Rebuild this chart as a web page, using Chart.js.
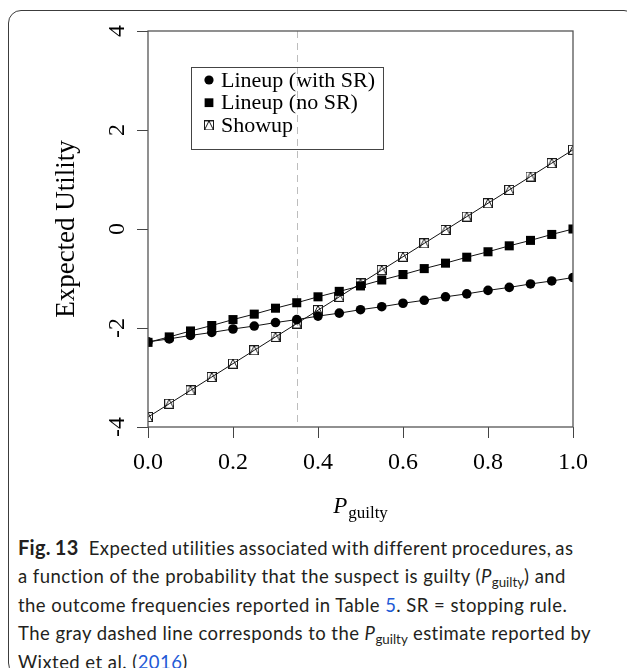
<!DOCTYPE html>
<html>
<head>
<meta charset="utf-8">
<script src="https://cdn.jsdelivr.net/npm/chart.js@4/dist/chart.umd.min.js"></script>
<style>
  html, body { margin: 0; padding: 0; background: #fff; width: 627px; height: 668px; overflow: hidden; }
  #frame { position: absolute; left: 8px; top: 10px; width: 629px; height: 666px; border: 1.5px solid #3c3c3c; border-radius: 13px; box-sizing: border-box; }
  #plot { position: absolute; left: 0; top: 0; }
  #caption { position: absolute; left: 18px; top: 533px; font-family: Lato, "Noto Sans", sans-serif; font-size: 18.5px; letter-spacing: 0.45px; line-height: 28.4px; color: #231f20; white-space: nowrap; }
  #caption .b { font-weight: bold; font-size: 20px; letter-spacing: 0.3px; margin-right: 6px; }
  #caption .first { word-spacing: -1.2px; }
  #caption .ref { color: #2159d6; }
  #caption sub { font-size: 72%; vertical-align: -0.32em; line-height: 0; letter-spacing: 0; }
</style>
</head>
<body>
<div id="frame"></div>
<canvas id="plot" width="627" height="530"></canvas>
<div id="caption">
  <div class="first"><span class="b">Fig. 13</span> Expected utilities associated with different procedures, as</div>
  <div>a function of the probability that the suspect is guilty (<i>P</i><sub>guilty</sub>) and</div>
  <div>the outcome frequencies reported in Table <span class="ref">5</span>. SR = stopping rule.</div>
  <div>The gray dashed line corresponds to the <i>P</i><sub>guilty</sub> estimate reported by</div>
  <div>Wixted et al. (<span class="ref">2016</span>)</div>
</div>
<script>
// Probability that the suspect is guilty
const pGuilty = [0.00, 0.05, 0.10, 0.15, 0.20, 0.25, 0.30, 0.35, 0.40, 0.45, 0.50,
                 0.55, 0.60, 0.65, 0.70, 0.75, 0.80, 0.85, 0.90, 0.95, 1.00];

// Expected utility per procedure
const lineupWithSR = [-2.28, -2.22, -2.15, -2.09, -2.02, -1.96, -1.89, -1.83, -1.76, -1.70, -1.63,
                      -1.57, -1.50, -1.44, -1.37, -1.31, -1.24, -1.18, -1.11, -1.05, -0.98];
const lineupNoSR   = [-2.29, -2.18, -2.06, -1.95, -1.83, -1.72, -1.60, -1.49, -1.37, -1.26, -1.15,
                      -1.03, -0.92, -0.80, -0.69, -0.57, -0.46, -0.34, -0.23, -0.11, 0.00];
const showup       = [-3.80, -3.53, -3.26, -2.99, -2.72, -2.45, -2.18, -1.91, -1.64, -1.37, -1.10,
                      -0.83, -0.56, -0.29, -0.02, 0.25, 0.52, 0.79, 1.06, 1.33, 1.60];

const seriesNames = ['Lineup (with SR)', 'Lineup (no SR)', 'Showup'];

// Axis ranges and ticks
const xTicks = [0.0, 0.2, 0.4, 0.6, 0.8, 1.0];
const yTicks = [-4, -2, 0, 2, 4];

// Published P(guilty) estimate, marked with a dashed line
const pGuiltyEstimate = 0.35;

const SERIF = '"Liberation Serif", "Times New Roman", serif';

// Square with an inscribed upward triangle
function boxedTriangle(size) {
  const c = document.createElement('canvas');
  c.width = size; c.height = size;
  const g = c.getContext('2d');
  g.strokeStyle = '#1a1a1a';
  g.lineWidth = 1;
  g.strokeRect(0.5, 0.5, size - 1, size - 1);
  g.beginPath();
  g.moveTo(0.5, size - 0.5);
  g.lineTo(size / 2, 0.5);
  g.lineTo(size - 0.5, size - 0.5);
  g.stroke();
  return c;
}
const showupMarker = boxedTriangle(10);

const toPoints = ys => pGuilty.map((x, i) => ({ x: x, y: ys[i] }));

const baseSeries = {
  borderColor: '#111',
  borderWidth: 1,
  pointBackgroundColor: '#000',
  pointBorderColor: '#000',
  pointBorderWidth: 0,
  tension: 0,
  clip: 0,
  fill: false
};

const datasets = [
  Object.assign({}, baseSeries, { label: seriesNames[0], data: toPoints(lineupWithSR), pointStyle: 'circle', pointRadius: 4.8 }),
  Object.assign({}, baseSeries, { label: seriesNames[1], data: toPoints(lineupNoSR), pointStyle: 'rect', pointRadius: 6.4 }),
  Object.assign({}, baseSeries, { label: seriesNames[2], data: toPoints(showup), pointStyle: showupMarker, pointRadius: 5 })
];

// Gray dashed reference line behind the series
const estimateLine = {
  id: 'estimateLine',
  beforeDatasetsDraw(chart) {
    const { ctx, chartArea, scales } = chart;
    const x = Math.round(scales.x.getPixelForValue(pGuiltyEstimate)) + 0.5;
    ctx.save();
    ctx.strokeStyle = '#bdbdbd';
    ctx.lineWidth = 1;
    ctx.setLineDash([7, 5]);
    ctx.beginPath();
    ctx.moveTo(x, chartArea.top);
    ctx.lineTo(x, chartArea.bottom);
    ctx.stroke();
    ctx.restore();
  }
};

// Box, rotated y labels, axis titles and legend
const decorations = {
  id: 'decorations',
  afterDraw(chart) {
    const { ctx, chartArea, scales } = chart;
    const { left, right, top, bottom } = chartArea;
    ctx.save();

    // plot box
    ctx.strokeStyle = '#555';
    ctx.lineWidth = 1.3;
    ctx.strokeRect(left, top, right - left, bottom - top);

    // y tick labels, parallel to the axis
    ctx.fillStyle = '#000';
    ctx.font = '24px ' + SERIF;
    ctx.textAlign = 'center';
    ctx.textBaseline = 'alphabetic';
    scales.y.ticks.forEach(t => {
      const y = scales.y.getPixelForValue(t.value);
      ctx.save();
      ctx.translate(124, y);
      ctx.rotate(-Math.PI / 2);
      ctx.fillText(String(t.value), 0, 0);
      ctx.restore();
    });

    // y title
    ctx.save();
    ctx.font = '27px ' + SERIF;
    ctx.translate(74, (top + bottom) / 2);
    ctx.rotate(-Math.PI / 2);
    ctx.fillText('Expected Utility', 0, 0);
    ctx.restore();

    // x title: P with subscript "guilty"
    ctx.textAlign = 'left';
    ctx.font = 'italic 23px ' + SERIF;
    const wP = ctx.measureText('P').width;
    ctx.font = '17px ' + SERIF;
    const wSub = ctx.measureText('guilty').width;
    const x0 = (left + right) / 2 - (wP + wSub + 1) / 2;
    ctx.font = 'italic 23px ' + SERIF;
    ctx.fillText('P', x0, 513);
    ctx.font = '17px ' + SERIF;
    ctx.fillText('guilty', x0 + wP + 1, 518);

    // legend
    const lx = left + 43, ly = top + 36;
    ctx.font = '22px ' + SERIF;
    const textW = Math.max(...chart.data.datasets.map(d => ctx.measureText(d.label).width));
    const boxW = 30 + textW + 8, boxH = 82;
    ctx.strokeStyle = '#444';
    ctx.lineWidth = 1;
    ctx.strokeRect(lx + 0.5, ly + 0.5, boxW, boxH);
    ctx.textBaseline = 'middle';
    chart.data.datasets.forEach((d, i) => {
      const cy = ly + 13 + i * 22.7;
      ctx.fillStyle = '#000';
      ctx.strokeStyle = '#000';
      Chart.helpers.drawPoint(ctx, { pointStyle: d.pointStyle, radius: d.pointStyle === 'rect' ? 6.2 : 4.6, rotation: 0, borderWidth: 0 }, lx + 18, cy);
      ctx.fillText(d.label, lx + 30, cy + 1);
    });
    ctx.restore();
  }
};

new Chart(document.getElementById('plot'), {
  type: 'line',
  data: { datasets: datasets },
  options: {
    responsive: false,
    devicePixelRatio: 1,
    animation: false,
    events: [],
    layout: { padding: { left: 0, top: 31, right: 54, bottom: 0 } },
    plugins: { legend: { display: false }, tooltip: { enabled: false } },
    scales: {
      x: {
        type: 'linear',
        min: 0, max: 1,
        afterBuildTicks(scale) { scale.ticks = xTicks.map(v => ({ value: v })); },
        afterFit(scale) { scale.height = 103; },
        border: { display: false },
        grid: { drawOnChartArea: false, drawTicks: true, tickLength: 11, color: '#444', lineWidth: 1 },
        ticks: { color: '#000', padding: 10, font: { family: SERIF, size: 24 }, callback: v => Number(v).toFixed(1), maxRotation: 0, minRotation: 0 }
      },
      y: {
        type: 'linear',
        min: -4, max: 4,
        afterBuildTicks(scale) { scale.ticks = yTicks.map(v => ({ value: v })); },
        afterFit(scale) { scale.width = 148; },
        border: { display: false },
        grid: { drawOnChartArea: false, drawTicks: true, tickLength: 11, color: '#444', lineWidth: 1 },
        ticks: { color: 'rgba(0,0,0,0)', font: { family: SERIF, size: 24 } }
      }
    }
  },
  plugins: [estimateLine, decorations]
});
</script>
</body>
</html>
